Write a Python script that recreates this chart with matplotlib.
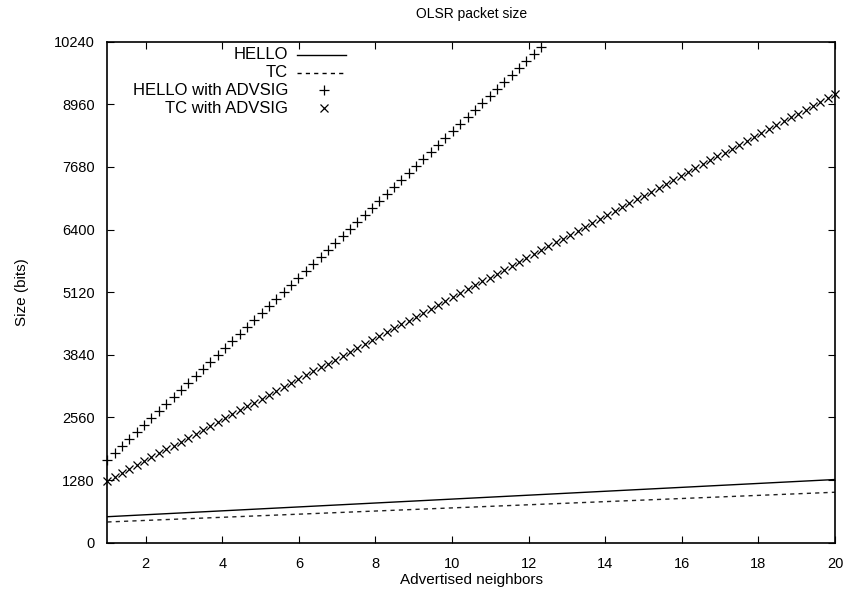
import matplotlib
matplotlib.use("Agg")
import matplotlib.pyplot as plt
import numpy as np

plt.rcParams["font.family"] = ["Liberation Sans", "DejaVu Sans"]
plt.rcParams["font.size"] = 10.5

# x grid: gnuplot default of 100 samples between 1 and 20
samples = np.linspace(1, 20, 100)
neighbors = list(range(1, 21))

hello = [531, 571, 611, 651, 691, 731, 771, 811, 851, 891,
         931, 971, 1011, 1051, 1091, 1131, 1171, 1211, 1251, 1291]
tc = [423, 455, 487, 519, 551, 583, 615, 647, 679, 711,
      743, 775, 807, 839, 871, 903, 935, 967, 999, 1031]

hello_advsig = [1690, 1833, 1976, 2120, 2263, 2406, 2549, 2692, 2835, 2979,
                3122, 3265, 3408, 3551, 3694, 3838, 3981, 4124, 4267, 4410,
                4553, 4697, 4840, 4983, 5126, 5269, 5412, 5556, 5699, 5842,
                5985, 6128, 6272, 6415, 6558, 6701, 6844, 6987, 7131, 7274,
                7417, 7560, 7703, 7846, 7990, 8133, 8276, 8419, 8562, 8705,
                8849, 8992, 9135, 9278, 9421, 9564, 9708, 9851, 9994, 10137]
tc_advsig = [1267, 1347, 1427, 1507, 1586, 1666, 1746, 1826, 1906, 1986,
             2065, 2145, 2225, 2305, 2385, 2465, 2544, 2624, 2704, 2784,
             2864, 2944, 3023, 3103, 3183, 3263, 3343, 3423, 3502, 3582,
             3662, 3742, 3822, 3902, 3981, 4061, 4141, 4221, 4301, 4381,
             4461, 4540, 4620, 4700, 4780, 4860, 4940, 5019, 5099, 5179,
             5259, 5339, 5419, 5498, 5578, 5658, 5738, 5818, 5898, 5977,
             6057, 6137, 6217, 6297, 6377, 6456, 6536, 6616, 6696, 6776,
             6856, 6935, 7015, 7095, 7175, 7255, 7335, 7415, 7494, 7574,
             7654, 7734, 7814, 7894, 7973, 8053, 8133, 8213, 8293, 8373,
             8452, 8532, 8612, 8692, 8772, 8852, 8931, 9011, 9091, 9171]

labels = ["HELLO", "TC", "HELLO with ADVSIG", "TC with ADVSIG"]

fig = plt.figure(figsize=(8.49, 5.98), dpi=100)
ax = fig.add_axes([0.1265, 0.0925, 0.857, 0.8378])

ax.plot(neighbors, hello, color="black", lw=1.0)
ax.plot(neighbors, tc, color="#222222", lw=1.0, dashes=(3, 3))
ax.plot(samples[:len(hello_advsig)], hello_advsig, ls="none", marker="+",
        ms=6.5, mew=0.9, color="black", clip_on=False)
ax.plot(samples, tc_advsig, ls="none", marker="x",
        ms=5.2, mew=0.9, color="black", clip_on=False)

# gnuplot style key: right aligned text, sample on the right
styles = [dict(ls="-", lw=1.0), dict(ls="--", lw=1.0, dashes=(3, 3)),
          dict(ls="none", marker="+", ms=6.5, mew=0.9),
          dict(ls="none", marker="x", ms=5.2, mew=0.9)]
rows = [0.9735, 0.9381, 0.9028, 0.8675]
for lab, st, yy in zip(labels, styles, rows):
    ax.text(0.2482, yy, lab, ha="right", va="center", fontsize=12,
            transform=ax.transAxes)
    if st["ls"] == "none":
        ax.plot([0.2977], [yy], color="black", transform=ax.transAxes,
                clip_on=False, **st)
    else:
        ax.plot([0.2603, 0.3277], [yy, yy], color="black",
                transform=ax.transAxes, clip_on=False, **st)

ax.set_xlim(1, 20)
ax.set_ylim(0, 10240)
ax.set_xticks(range(2, 21, 2))
ax.set_yticks(range(0, 10241, 1280))
ax.tick_params(direction="in", length=4.7, width=0.8, top=True, right=True)
ax.tick_params(axis="x", pad=10)
ax.tick_params(axis="y", pad=9)
for sp in ax.spines.values():
    sp.set_linewidth(1.2)

ax.set_title("OLSR packet size", pad=17, fontsize=10)
ax.set_xlabel("Advertised neighbors", labelpad=2, fontsize=11)
ax.set_ylabel("Size (bits)", labelpad=18, fontsize=11)

fig.savefig("out.png", dpi=100)
